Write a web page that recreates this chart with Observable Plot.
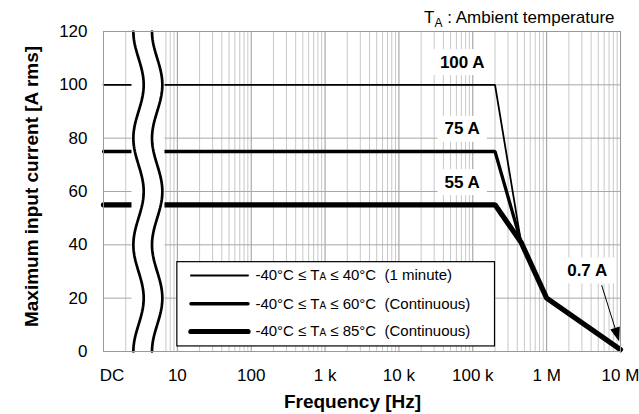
<!DOCTYPE html>
<html>
<head>
<meta charset="utf-8">
<script src="https://cdn.jsdelivr.net/npm/d3@7"></script>
<script src="https://cdn.jsdelivr.net/npm/@observablehq/plot@0.6"></script>
<style>
  body { margin: 0; background: #fff; }
  #chart svg { display: block; }
</style>
</head>
<body>
<div id="chart"></div>
<script>
// ---- data ----
const freq = [1, 200000, 450000, 1000000, 10000000];
const limit40_1min = [100, 100, 41, 20, 0.7];
const limit60_cont = [75, 75, 41, 20, 0.7];
const limit85_cont = [55, 55, 41, 20, 0.7];
const seriesNames = [
  "-40°C ≤ T_A ≤ 40°C  (1 minute)",
  "-40°C ≤ T_A ≤ 60°C  (Continuous)",
  "-40°C ≤ T_A ≤ 85°C  (Continuous)"
];
const seriesWidths = [1.8, 3.3, 5.2];

const yTicks = [0, 20, 40, 60, 80, 100, 120];
const xTicks = [1.3, 10, 100, 1e3, 1e4, 1e5, 1e6, 1e7];
const xTickLabels = ["DC", "10", "100", "1 k", "10 k", "100 k", "1 M", "10 M"];

const peakLabels = ["100 A", "75 A", "55 A"];
const peakLabelF = [72000, 72000, 72000];
const peakLabelV = [108.5, 83.5, 63.5];
const endLabel = "0.7 A";
const endLabelF = 3.54e6, endLabelV = 30.4;
const arrowFrom = [5.64e6, 24.7];
const arrowTo = [9.75e6, 3.6];

// axis-break (DC | 10 Hz) decoration
const breakBand = [2.43, 6.8];
const breakCurves = [2.98, 5.33];
const breakAmp = 0.07;

// legend placement (data coordinates)
const legendBox = {x1: 10, x2: 200000, y1: 1.9, y2: 33.5};
const legendRowV = [28.5, 17.9, 7.5];
const legendSample = [15.5, 92];
const legendTextF = 114;

// ---- derived tables ----
const series = [limit40_1min, limit60_cont, limit85_cont].map((vals, i) =>
  freq.map((f, j) => ({f, v: vals[j], s: i})));
const gridMajor = [1, 10, 100, 1e3, 1e4, 1e5, 1e6, 1e7];
const gridMinor = [];
for (let e = 0; e < 7; e++) for (let m = 2; m <= 9; m++) gridMinor.push(m * 10 ** e);
const waveV = d3.range(0, 120.01, 1);
const waves = breakCurves.map(c => waveV.map(v => ({
  f: 10 ** (Math.log10(c) - breakAmp * Math.cos(Math.PI * v / 20)), v
})));
const legendRows = seriesNames.map((n, i) => ({n, v: legendRowV[i], w: seriesWidths[i]}));

const font = "Arial, 'Liberation Sans', Helvetica, sans-serif";

const svg = Plot.plot({
  width: 639,
  height: 414,
  marginLeft: 103,
  marginRight: 19,
  marginTop: 31,
  marginBottom: 63,
  style: {fontFamily: font, fontSize: "17px", color: "#000", background: "#fff"},
  x: {type: "log", domain: [1, 1e7], ticks: xTicks, tickFormat: d => xTickLabels[xTicks.indexOf(d)],
      tickSize: 0, tickPadding: 17, label: null},
  y: {domain: [0, 120], ticks: yTicks, tickSize: 0, tickPadding: 16, label: null},
  marks: [
    Plot.ruleX(gridMinor, {stroke: "#c8c8c8", strokeWidth: 1}),
    Plot.ruleX(gridMajor, {stroke: "#999", strokeWidth: 1}),
    Plot.ruleY(yTicks, {stroke: "#a8a8a8", strokeWidth: 1}),
    ...series.map((d, i) => Plot.line(d, {x: "f", y: "v", stroke: "#000", strokeWidth: seriesWidths[i], strokeLinejoin: "miter"})),
    Plot.rect([breakBand], {x1: d => d[0], x2: d => d[1], y1: 0, y2: 120, fill: "#fff"}),
    ...waves.map(w => Plot.line(w, {x: "f", y: "v", stroke: "#000", strokeWidth: 2.7, curve: "linear"})),
    Plot.frame({stroke: "#999"}),
    // legend
    Plot.rect([legendBox], {x1: "x1", x2: "x2", y1: "y1", y2: "y2", fill: "#fff", stroke: "#000", strokeWidth: 1.2}),
    ...legendRows.map(r => Plot.ruleY([r], {x1: legendSample[0], x2: legendSample[1], y: "v", stroke: "#000", strokeWidth: r.w, strokeLinecap: "round"})),
    Plot.text(legendRows, {x: legendTextF, y: "v", text: "n", textAnchor: "start", fontSize: 15, fill: "#000"}),
    // annotations
    Plot.text(peakLabels, {x: (d, i) => peakLabelF[i], y: (d, i) => peakLabelV[i], text: d => d, fontSize: 17, fontWeight: "bold", fill: "#000"}),
    Plot.text([endLabel], {x: endLabelF, y: endLabelV, text: d => d, fontSize: 17, fontWeight: "bold", fill: "#000"}),
    // titles
    Plot.text(["T_A : Ambient temperature"], {frameAnchor: "top-right", textAnchor: "end", lineAnchor: "bottom", dx: -6, dy: -9, fontSize: 17, fill: "#000"}),
    Plot.text(["Maximum input current [A rms]"], {frameAnchor: "left", textAnchor: "middle", lineAnchor: "middle", rotate: -90, dx: -72, dy: -5, fontSize: 19, fontWeight: "bold", fill: "#000"}),
    Plot.text(["Frequency [Hz]"], {frameAnchor: "bottom", textAnchor: "middle", lineAnchor: "middle", dx: -9.5, dy: 50, fontSize: 19, fontWeight: "bold", fill: "#000"})
  ]
});

document.getElementById("chart").append(svg);

// ---- post-processing: subscripts, label boxes, arrow ----
const root = d3.select(svg);
root.selectAll("text").each(function () {
  const t = this.textContent;
  if (t.includes("T_A")) {
    const isTitle = t.startsWith("T_A :");
    const parts = t.split("T_A");
    const el = d3.select(this);
    el.text(null);
    parts.forEach((p, i) => {
      if (i > 0) {
        el.append("tspan").text("T");
        if (isTitle) {
          el.append("tspan").attr("font-size", 12).attr("dy", 4).text("A");
          el.append("tspan").attr("dy", -4).text(p);
        } else {
          el.append("tspan").attr("font-size", 10).text("A");
          el.append("tspan").text(p);
        }
      } else {
        el.append("tspan").text(p);
      }
    });
  }
});

const boxed = new Set([...peakLabels, endLabel]);
root.selectAll("text").each(function () {
  if (!boxed.has(this.textContent)) return;
  const bb = this.getBBox();
  const padX = 7, padY = 3.5;
  d3.select(this.parentNode).insert("rect", () => this)
    .attr("x", bb.x - padX).attr("y", bb.y - padY)
    .attr("width", bb.width + 2 * padX).attr("height", bb.height + 2 * padY)
    .attr("transform", this.getAttribute("transform"))
    .attr("fill", "#fff");
});

const X = svg.scale("x"), Y = svg.scale("y");
const x0 = X.apply(arrowFrom[0]), y0 = Y.apply(arrowFrom[1]);
const x1 = X.apply(arrowTo[0]), y1 = Y.apply(arrowTo[1]);
const ang = Math.atan2(y1 - y0, x1 - x0);
const hl = 14, hw = 5;
const bx = x1 - hl * Math.cos(ang), by = y1 - hl * Math.sin(ang);
const ag = root.append("g").attr("aria-label", "arrow");
ag.append("line").attr("x1", x0).attr("y1", y0).attr("x2", bx).attr("y2", by)
  .attr("stroke", "#000").attr("stroke-width", 1);
ag.append("path")
  .attr("d", `M${x1},${y1}L${bx - hw * Math.sin(ang)},${by + hw * Math.cos(ang)}L${bx + hw * Math.sin(ang)},${by - hw * Math.cos(ang)}Z`)
  .attr("fill", "#000");
</script>
</body>
</html>
